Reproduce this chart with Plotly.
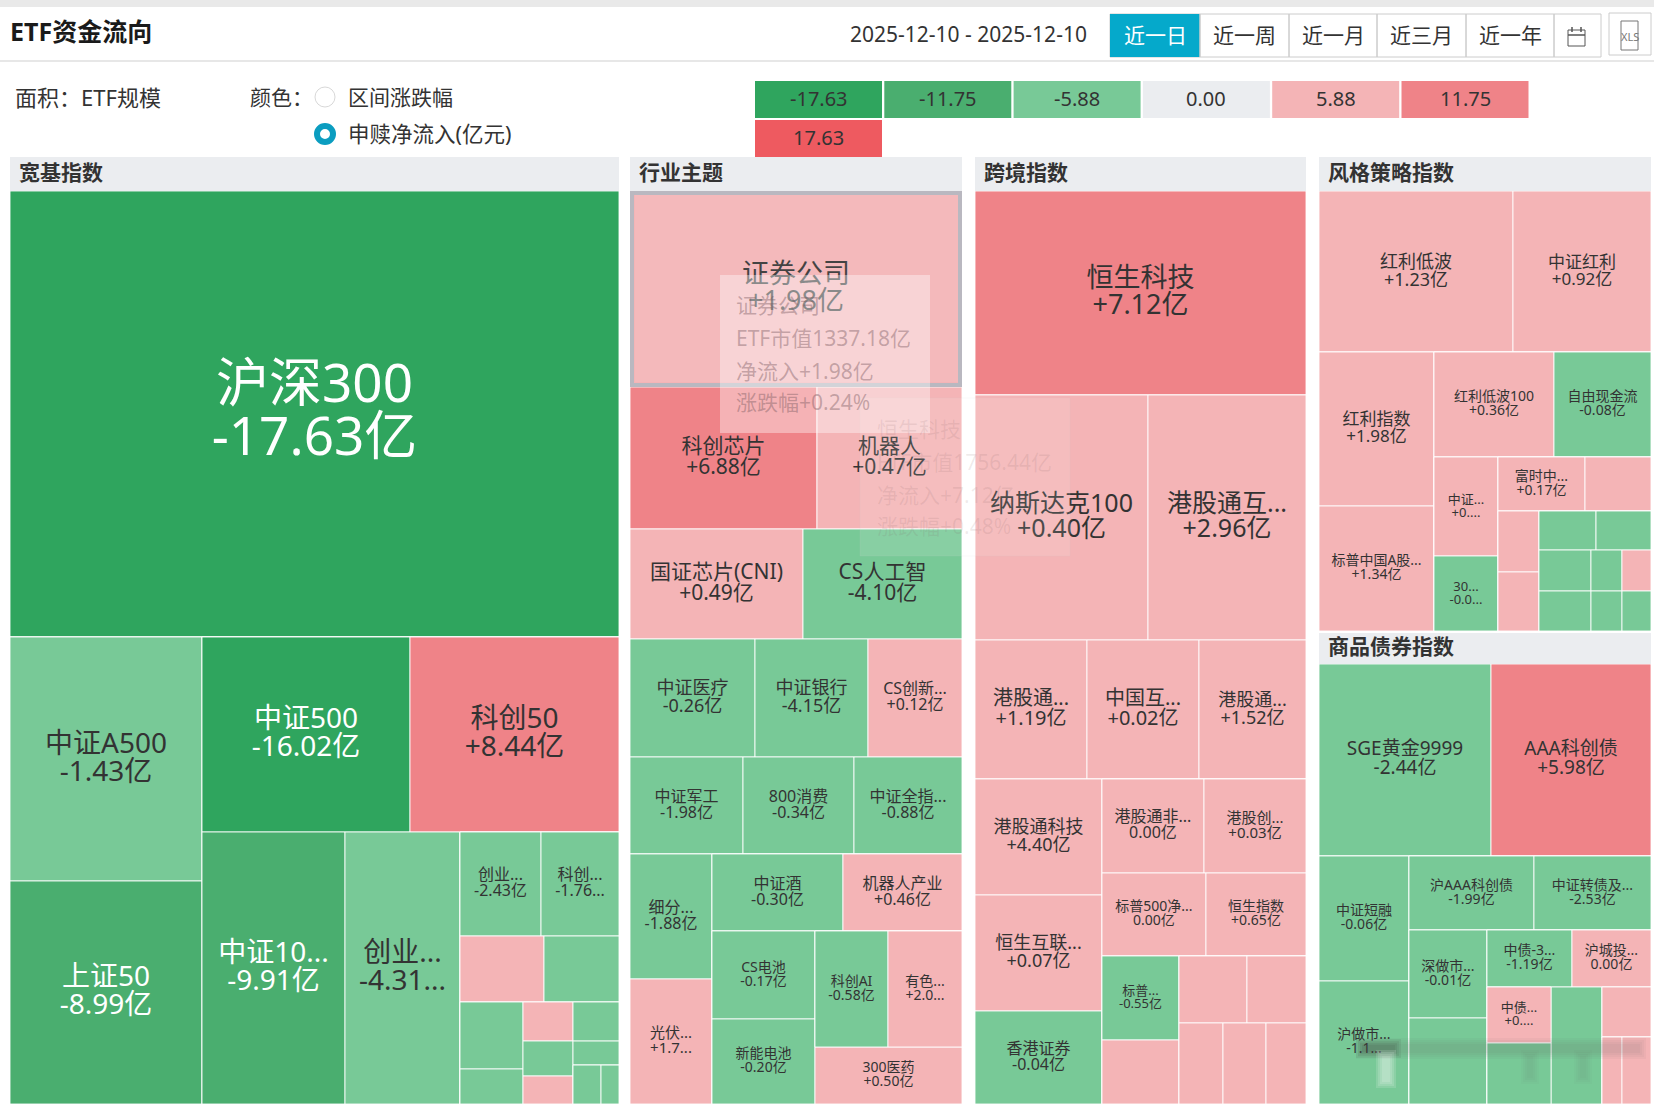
import plotly.graph_objects as go

WIDTH = 1654
HEIGHT = 1104

# --- legend
legend_values = ["-17.63", "-11.75", "-5.88", "0.00", "5.88", "11.75", "17.63"]
legend_colors = ["#2fa55e", "#4aae6f", "#78c997", "#ebedf0", "#f4b4b6", "#ef8388", "#ee5a60"]
period_buttons = ["近一日", "近一周", "近一月", "近三月", "近一年"]

# --- 宽基指数
kj_ids = ["root", "main", "hs300", "lower", "left", "a500", "sz50", "right", "top2", "zz500", "kc50",
          "bot2", "zz1000", "cyb", "rest", "r1", "cy2", "kc2", "r2", "b1", "b2", "r3", "c1", "b3", "b4",
          "c2", "b5", "b6", "b7", "c3", "b8", "b9", "c4", "b10", "b11"]
kj_parents = ["", "root", "main", "main", "lower", "left", "left", "lower", "right", "top2", "top2",
              "right", "bot2", "bot2", "bot2", "rest", "r1", "r1", "rest", "r2", "r2", "rest", "r3", "c1", "c1",
              "r3", "c2", "c2", "c2", "r3", "c3", "c3", "c3", "c4", "c4"]
kj_leaves = ["hs300", "a500", "sz50", "zz500", "kc50", "zz1000", "cyb", "cy2", "kc2", "b1", "b2", "b3", "b4",
             "b5", "b6", "b7", "b8", "b9", "b10", "b11"]
kj_names = ["沪深300", "中证A500", "上证50", "中证500", "科创50", "中证10...", "创业...", "创业...", "科创..."] + [""] * 11
kj_labels = ["-17.63亿", "-1.43亿", "-8.99亿", "-16.02亿", "+8.44亿", "-9.91亿", "-4.31...", "-2.43亿", "-1.76..."] + [""] * 11
kj_flows = [-17.63, -1.43, -8.99, -16.02, 8.44, -9.91, -4.31, -2.43, -1.76, 0.3, -0.4, -0.5, -0.3, 0.2, -0.2, 0.1,
            -0.2, -0.1, -0.1, -0.1]
kj_sizes = [5432.3, 937.0, 856.3, 811.2, 815.1, 777.9, 625.6, 168.5, 162.2, 110.9, 99.0, 84.4, 44.1, 39.0, 35.0,
            28.0, 35.9, 22.1, 21.8, 14.0]

# --- 行业主题
hy_ids = ["root", "main", "zq", "r2", "kcxp", "jqr", "r3", "gzxp", "csrg", "r4", "yl", "yh", "cscx", "r5", "jg",
          "xf800", "qz", "r6", "p", "xf", "gf", "q", "t", "jiu", "jqrcy", "u", "v", "csdc", "xn", "w", "x",
          "kcai", "ys", "yy300"]
hy_parents = ["", "root", "main", "main", "r2", "r2", "main", "r3", "r3", "main", "r4", "r4", "r4", "main", "r5",
              "r5", "r5", "main", "r6", "p", "p", "r6", "q", "t", "t", "q", "u", "v", "v", "u", "w",
              "x", "x", "w"]
hy_leaves = ["zq", "kcxp", "jqr", "gzxp", "csrg", "yl", "yh", "cscx", "jg", "xf800", "qz", "xf", "gf", "jiu",
             "jqrcy", "csdc", "xn", "kcai", "ys", "yy300"]
hy_names = ["证券公司", "科创芯片", "机器人", "国证芯片(CNI)", "CS人工智", "中证医疗", "中证银行", "CS创新...", "中证军工",
            "800消费", "中证全指...", "细分...", "光伏...", "中证酒", "机器人产业", "CS电池", "新能电池", "科创AI",
            "有色...", "300医药"]
hy_labels = ["+1.98亿", "+6.88亿", "+0.47亿", "+0.49亿", "-4.10亿", "-0.26亿", "-4.15亿", "+0.12亿", "-1.98亿",
             "-0.34亿", "-0.88亿", "-1.88亿", "+1.7...", "-0.30亿", "+0.46亿", "-0.17亿", "-0.20亿", "-0.58亿",
             "+2.0...", "+0.50亿"]
hy_flows = [1.98, 6.88, 0.47, 0.49, -4.10, -0.26, -4.15, 0.12, -1.98, -0.34, -0.88, -1.88, 1.7, -0.30, 0.46,
            -0.17, -0.20, -0.58, 2.0, 0.50]
hy_sizes = [1301.4, 531.1, 411.8, 380.6, 349.8, 295.0, 266.7, 221.8, 219.2, 215.3, 209.5, 205.0, 205.0, 201.7,
            183.3, 181.3, 175.1, 169.4, 171.7, 167.6]

# --- 跨境指数
kjing_ids = ["root", "main", "hskj", "r2", "nsdk", "ggthl", "r3", "ggt1", "zghl", "ggt2", "r4", "l", "ggtkj",
             "hshl", "xg", "rt", "s1", "ggtf", "ggcx", "s2", "bp500", "hszs", "s3", "c", "bp", "pa", "d", "e",
             "pb", "pc", "f", "pd", "pe", "pf"]
kjing_parents = ["", "root", "main", "main", "r2", "r2", "main", "r3", "r3", "r3", "main", "r4", "l",
                 "l", "l", "r4", "rt", "s1", "s1", "rt", "s2", "s2", "rt", "s3", "c", "c", "s3", "d",
                 "e", "e", "d", "f", "f", "f"]
kjing_leaves = ["hskj", "nsdk", "ggthl", "ggt1", "zghl", "ggt2", "ggtkj", "hshl", "xg", "ggtf", "ggcx", "bp500",
                "hszs", "bp", "pa", "pb", "pc", "pd", "pe", "pf"]
kjing_names = ["恒生科技", "纳斯达克100", "港股通互...", "港股通...", "中国互...", "港股通...", "港股通科技", "恒生互联...",
               "香港证券", "港股通非...", "港股创...", "标普500净...", "恒生指数", "标普..."] + [""] * 6
kjing_labels = ["+7.12亿", "+0.40亿", "+2.96亿", "+1.19亿", "+0.02亿", "+1.52亿", "+4.40亿", "+0.07亿", "-0.04亿",
                "0.00亿", "+0.03亿", "0.00亿", "+0.65亿", "-0.55亿"] + [""] * 6
kjing_flows = [7.12, 0.40, 2.96, 1.19, 0.02, 1.52, 4.40, 0.07, -0.04, 0.0, 0.03, 0.0, 0.65, -0.55, 0.1, 0.1, 0.1,
               0.1, 0.1, 0.1]
kjing_sizes = [1350.5, 847.7, 774.2, 311.4, 311.4, 297.5, 294.6, 294.6, 236.2, 191.8, 191.8, 172.6, 166.0, 129.4,
               98.6, 91.1, 79.1, 71.3, 69.7, 64.8]

# --- 风格策略指数
fg_ids = ["root", "main", "r1", "hldb", "zzhl", "r2", "l", "hlzs", "bpa", "rt", "s1", "hl100", "zyxj", "s2", "c",
          "zz", "s30", "d", "e", "fs", "pa", "f", "g", "pb", "pc", "h", "h1", "ga", "gb", "h2", "gc", "gd", "pd",
          "h3", "ge", "gf", "gg"]
fg_parents = ["", "root", "main", "r1", "r1", "main", "r2", "l", "l", "r2", "rt", "s1", "s1", "rt", "s2",
              "c", "c", "s2", "d", "e", "e", "d", "f", "g", "g", "f", "h", "h1", "h1", "h", "h2", "h2", "h2",
              "h", "h3", "h3", "h3"]
fg_leaves = ["hldb", "zzhl", "hlzs", "bpa", "hl100", "zyxj", "zz", "s30", "fs", "pa", "pb", "pc", "ga", "gb", "gc",
             "gd", "pd", "ge", "gf", "gg"]
fg_names = ["红利低波", "中证红利", "红利指数", "标普中国A股...", "红利低波100", "自由现金流", "中证...", "30...", "富时中..."] + [""] * 11
fg_labels = ["+1.23亿", "+0.92亿", "+1.98亿", "+1.34亿", "+0.36亿", "-0.08亿", "+0....", "-0.0...", "+0.17亿"] + [""] * 11
fg_flows = [1.23, 0.92, 1.98, 1.34, 0.36, -0.08, 0.1, -0.01, 0.17, 0.1, 0.1, 0.1, -0.1, -0.1, -0.1, -0.1, 0.1,
            -0.1, -0.1, -0.1]
fg_sizes = [624.7, 444.4, 354.2, 287.5, 252.0, 203.7, 126.7, 96.0, 94.0, 71.3, 50.0, 48.4, 44.5, 42.9, 42.6, 25.4,
            23.8, 41.6, 24.8, 23.2]

# --- 商品债券指数
sp_ids = ["root", "main", "r1", "sge", "aaa", "r2", "l", "dr", "hzs", "rt", "s1", "haaa", "zz", "s2", "c", "szs",
          "ga", "d", "e", "zz3", "hct", "f", "g", "zz0", "gb", "gc", "h", "pa", "i", "pb", "pc"]
sp_parents = ["", "root", "main", "r1", "r1", "main", "r2", "l", "l", "r2", "rt", "s1", "s1", "rt", "s2", "c",
              "c", "s2", "d", "e", "e", "d", "f", "g", "g", "f", "f", "h", "h", "i", "i"]
sp_leaves = ["sge", "aaa", "dr", "hzs", "haaa", "zz", "szs", "ga", "zz3", "hct", "zz0", "gb", "gc", "pa", "pb", "pc"]
sp_names = ["SGE黄金9999", "AAA科创债", "中证短融", "沪做市...", "沪AAA科创债", "中证转债及...", "深做市...", "", "中债-3...",
            "沪城投...", "中债...", "", "", "", "", ""]
sp_labels = ["-2.44亿", "+5.98亿", "-0.06亿", "-1.1...", "-1.99亿", "-2.53亿", "-0.01亿", "", "-1.19亿", "0.00亿",
             "+0....", "", "", "", "", ""]
sp_flows = [-2.44, 5.98, -0.06, -1.1, -1.99, -2.53, -0.01, -0.1, -1.19, 0.0, 0.1, -0.1, -0.1, 0.1, 0.1, 0.1]
sp_sizes = [660.5, 614.4, 225.0, 221.4, 185.0, 173.2, 137.3, 134.2, 96.9, 90.1, 71.7, 78.1, 119.3, 49.0, 26.8, 38.9]

# font sizes, same order as the leaves
kj_fonts = [53, 28, 28, 28, 28, 28, 28, 16, 16] + [12] * 11
hy_fonts = [27, 21, 21, 21, 21, 18, 18, 16, 16, 16, 16, 16, 15, 16, 16, 14, 14, 14, 14, 14]
kjing_fonts = [27, 25, 25, 20, 20, 18, 18, 18, 16, 16, 15, 14, 14, 13] + [12] * 6
fg_fonts = [18, 17, 17, 14, 14, 14, 13, 13, 14] + [12] * 11
sp_fonts = [19, 19, 14, 14, 14, 14, 14, 12, 14, 14, 13, 12, 12, 12, 12, 12]

FONT = "Noto Sans, Noto Sans CJK SC"
TEXT = "#333333"


def px(x):
    return x / WIDTH


def py(y):
    return 1 - y / HEIGHT


def flow_color(v):
    # colour bins follow the legend at the top
    level = 3 if abs(v) >= 11.75 else 2 if abs(v) >= 5.88 else 1
    return legend_colors[3 - level] if v < 0 else legend_colors[3 + level]


def group_trace(ids, parents, leaves, names, labels, flows, sizes, fonts, box):
    assert len(ids) == len(parents)
    assert len(leaves) == len(names) == len(labels) == len(flows) == len(sizes) == len(fonts)
    texts, values, colors, font_sizes, font_colors = [], [], [], [], []
    for node in ids:
        if node in leaves:
            i = leaves.index(node)
            texts.append(f"{names[i]}<br>{labels[i]}" if names[i] else "")
            values.append(sizes[i])
            colors.append(flow_color(flows[i]))
            font_sizes.append(fonts[i])
            font_colors.append("white" if flows[i] <= -5.88 else TEXT)
        else:
            # layout-only parent, never visible
            texts.append("")
            values.append(0)
            colors.append("rgba(0,0,0,0)")
            font_sizes.append(12)
            font_colors.append(TEXT)
    x0, y0, x1, y1 = box
    return go.Treemap(
        ids=ids, parents=parents, labels=ids, values=values, text=texts,
        branchvalues="remainder", sort=False, textinfo="text", hoverinfo="skip",
        textposition="middle center",
        textfont=dict(family=FONT, size=font_sizes, color=font_colors),
        marker=dict(colors=colors, line=dict(color="rgba(255,255,255,0.85)", width=1),
                    pad=dict(t=0, l=0, r=0, b=0), depthfade=False),
        tiling=dict(packing="slice-dice", pad=0),
        pathbar=dict(visible=False),
        root=dict(color="rgba(0,0,0,0)"),
        domain=dict(x=[px(x0), px(x1)], y=[py(y1), py(y0)]),
    )


fig = go.Figure()
fig.add_trace(group_trace(kj_ids, kj_parents, kj_leaves, kj_names, kj_labels, kj_flows, kj_sizes, kj_fonts,
                          (10, 191, 619, 1104)))
fig.add_trace(group_trace(hy_ids, hy_parents, hy_leaves, hy_names, hy_labels, hy_flows, hy_sizes, hy_fonts,
                          (630, 191, 962, 1104)))
fig.add_trace(group_trace(kjing_ids, kjing_parents, kjing_leaves, kjing_names, kjing_labels, kjing_flows, kjing_sizes,
                          kjing_fonts, (975, 191, 1306, 1104)))
fig.add_trace(group_trace(fg_ids, fg_parents, fg_leaves, fg_names, fg_labels, fg_flows, fg_sizes, fg_fonts,
                          (1319, 191, 1651, 631)))
fig.add_trace(group_trace(sp_ids, sp_parents, sp_leaves, sp_names, sp_labels, sp_flows, sp_sizes, sp_fonts,
                          (1319, 664, 1651, 1104)))

shapes = []
notes = []


def rect(x0, y0, x1, y1, fill="rgba(0,0,0,0)", line=None, width=1):
    shapes.append(dict(type="rect", xref="paper", yref="paper", x0=px(x0), x1=px(x1), y0=py(y0), y1=py(y1),
                       fillcolor=fill, line=dict(color=line or "rgba(0,0,0,0)", width=width if line else 0)))


def circle(cx, cy, r, fill, line, width):
    shapes.append(dict(type="circle", xref="paper", yref="paper", x0=px(cx - r), x1=px(cx + r), y0=py(cy - r),
                       y1=py(cy + r), fillcolor=fill, line=dict(color=line, width=width)))


def label(x, y, text, size, color=TEXT, anchor="left"):
    # the CJK font sits about 2px low in an annotation box
    notes.append(dict(xref="paper", yref="paper", x=px(x), y=py(y - 2), text=text, showarrow=False, xanchor=anchor,
                      yanchor="middle", font=dict(family=FONT, size=size, color=color)))


# page header
rect(0, 0, WIDTH, 7, fill="#e9e9e9")
rect(0, 60.5, WIDTH, 61.5, fill="#cfcfcf")
label(8, 33, "<b>ETF资金流向</b>", 25, "#1a1a1a")
label(848, 36, "2025-12-10 - 2025-12-10", 21)

# period buttons
button_edges = [1110, 1200, 1289, 1377, 1466, 1554, 1601]
rect(1110, 14, 1601, 57, fill="white", line="#cccccc")
rect(1110, 14, 1200, 57, fill="#05a9cb")
for i, name in enumerate(period_buttons):
    if i > 0:
        rect(button_edges[i], 14, button_edges[i], 57, line="#cccccc")
    label((button_edges[i] + button_edges[i + 1]) / 2, 37, name, 21, "white" if i == 0 else TEXT, "center")
rect(1554, 14, 1554, 57, line="#cccccc")
# calendar icon
rect(1568, 30, 1585, 46, line="#555555")
rect(1568, 35, 1585, 35, line="#555555")
rect(1572, 27, 1572, 32, line="#555555")
rect(1581, 27, 1581, 32, line="#555555")
# export button
rect(1609, 13, 1651, 55, fill="white", line="#cccccc")
rect(1621, 21, 1638, 50, line="#777777")
label(1629.5, 38, "XLS", 11, "#777777", "center")

# selectors
label(13, 99, "面积：ETF规模", 22)
label(248, 99, "颜色：", 21)
circle(325, 97, 10, "white", "#d8d8d8", 1)
label(346, 99, "区间涨跌幅", 21)
circle(325, 134, 8, "white", "#0b9dc0", 6)
label(346, 136, "申赎净流入(亿元)", 21.5)

# colour legend
for i, (value, color) in enumerate(zip(legend_values, legend_colors)):
    row = 1 if i == 6 else 0
    col = 0 if i == 6 else i
    left = 755 + col * 129.3
    top = 81 + row * 39
    rect(left, top, left + 127, top + 37, fill=color)
    label(left + 63.5, top + 19.5, value, 20, TEXT, "center")

# group headers
for x0, x1, y0, name in [(10, 619, 157, "宽基指数"), (630, 962, 157, "行业主题"), (975, 1306, 157, "跨境指数"),
                         (1319, 1651, 157, "风格策略指数"), (1319, 1651, 633, "商品债券指数")]:
    rect(x0, y0, x1, y0 + 34 if y0 == 157 else y0 + 31, fill="#ebedf0")
    label(x0 + 7, y0 + 17 if y0 == 157 else y0 + 15, f"<b>{name}</b>", 21)

# selected cell outline and the tooltips left on the screenshot
rect(635, 195, 958, 382, fill="rgba(255,255,255,0.08)")
rect(632, 193, 960, 385, line="#b9b8c0", width=4)
rect(860, 398, 1070, 556, fill="rgba(255,255,255,0.12)", line="rgba(200,200,200,0.12)")
for y, text in [(431, "恒生科技"), (464, "ETF市值1756.44亿"), (497, "净流入+7.12亿"), (528, "涨跌幅+0.48%")]:
    label(875, y, text, 21, "rgba(130,100,100,0.13)")
rect(720, 275, 930, 433, fill="rgba(255,255,255,0.38)")
for y, text in [(307, "证券公司"), (340, "ETF市值1337.18亿"), (373, "净流入+1.98亿"), (404, "涨跌幅+0.24%")]:
    label(734, y, text, 21, "rgba(120,90,95,0.42)")

# blurred watermark along the bottom right
for pad in (0, 2, 4, 6):
    rect(1362 - pad, 1044 - pad, 1640 + pad, 1053 + pad, fill="rgba(90,90,90,0.05)")
    rect(1362 - pad, 1045 - pad, 1395 + pad, 1052 + pad, fill="rgba(60,60,60,0.09)")
    rect(1382 - pad, 1056 - pad, 1390 + pad, 1082 + pad, fill="rgba(255,255,255,0.14)")
    rect(1527 - pad, 1056 - pad, 1533 + pad, 1078 + pad, fill="rgba(90,90,90,0.03)")
    rect(1580 - pad, 1056 - pad, 1586 + pad, 1078 + pad, fill="rgba(90,90,90,0.03)")

fig.update_layout(
    width=WIDTH, height=HEIGHT,
    margin=dict(l=0, r=0, t=0, b=0),
    paper_bgcolor="white",
    shapes=shapes,
    annotations=notes,
    font=dict(family=FONT, color=TEXT),
)

# plotly fixes multi-line spacing at 1.3em, the source page sets it to 1em
TIGHTEN = """
document.body.style.margin = '0';
document.querySelectorAll('.slicetext text').forEach(function (t) {
  var lines = t.querySelectorAll('tspan.line');
  if (lines.length === 2) {
    lines[0].setAttribute('dy', '0.04em');
    lines[1].setAttribute('dy', '1.04em');
  }
});
"""

fig.write_html("out.html", config={"displayModeBar": False}, post_script=TIGHTEN)
